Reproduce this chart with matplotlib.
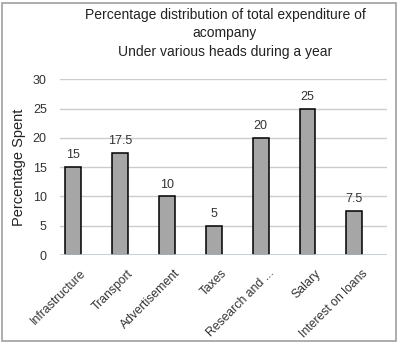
import matplotlib
matplotlib.use("Agg")
import matplotlib.pyplot as plt
from matplotlib.patches import Rectangle
import matplotlib.transforms as mtransforms

categories = ["Infrastructure", "Transport", "Advertisement", "Taxes",
              "Research and ...", "Salary", "Interest on loans"]
values = [15, 17.5, 10, 5, 20, 25, 7.5]
value_labels = ["15", "17.5", "10", "5", "20", "25", "7.5"]
yticks = [0, 5, 10, 15, 20, 25, 30]

plt.rcParams['font.family'] = ['Liberation Sans', 'DejaVu Sans']

W, H = 398, 344
fig = plt.figure(figsize=(W / 100, H / 100), dpi=100)
fig.patch.set_facecolor('white')

# outer border
fig.patches.append(Rectangle((2 / W, 3 / H), 394 / W, 338 / H, transform=fig.transFigure,
                             fill=False, edgecolor='#a0a0a0', linewidth=1.2))

ax = fig.add_axes([60 / W, 1 - 255 / H, 327 / W, (255 - 79.3) / H])
x = list(range(len(categories)))
ax.bar(x, values, width=0.34, color='#a6a6a6', edgecolor='black', linewidth=1.1, zorder=3)
ax.set_xlim(-0.277, 6.695)
ax.set_ylim(0, 30)
ax.set_yticks(yticks)
ax.set_yticklabels([str(t) for t in yticks], fontsize=9, color='#333333')
for t in yticks[1:]:
    ax.axhline(t, color='#cccccc', linewidth=1, zorder=1)
ax.axhline(0, color='#b8c8d8', linewidth=1.2, zorder=4)
for s in ax.spines.values():
    s.set_visible(False)
ax.tick_params(axis='x', length=0, pad=0)
ax.tick_params(axis='y', length=0, pad=9.5)

for xi, v, lab in zip(x, values, value_labels):
    ax.text(xi, v + 1.0, lab, ha='center', va='bottom', fontsize=9, color='#333333', zorder=5)

ax.set_xticks(x)
ax.set_xticklabels(categories, rotation=45, ha='right', va='center',
                   rotation_mode='anchor', fontsize=8.8, color='#333333')
offset = mtransforms.ScaledTranslation(11.5 / 100, -16.5 / 100, fig.dpi_scale_trans)
for lbl in ax.get_xticklabels():
    lbl.set_transform(lbl.get_transform() + offset)

fig.text(19 / W, 1 - 167 / H, "Percentage Spent", rotation=90, ha='center', va='center',
         fontsize=10.5, color='#222222')

title_lines = ["Percentage distribution of total expenditure of", "acompany",
               "Under various heads during a year"]
for i, line in enumerate(title_lines):
    fig.text(225 / W, 1 - (15 + 18.5 * i) / H, line, ha='center', va='center',
             fontsize=10, color='#222222')

fig.savefig("out.png", dpi=100, facecolor='white')
